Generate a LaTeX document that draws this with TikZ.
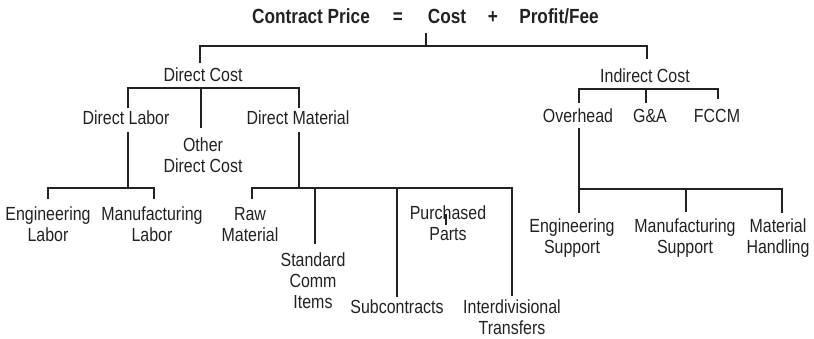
\documentclass[tikz,border=0pt]{standalone}
\usepackage{fontspec}
\setmainfont{Liberation Sans}[FakeStretch=0.84]
\definecolor{ink}{HTML}{222222}
\begin{document}
\begin{tikzpicture}[x=1pt,y=-1pt,
  lbl/.style={anchor=base,inner sep=0pt,align=center,text=ink,font=\fontsize{19}{21}\selectfont},
  ttl/.style={anchor=base,inner sep=0pt,text=ink,font=\fontsize{20.5}{24}\selectfont\bfseries},
  ln/.style={draw=ink,line width=2pt}]
\useasboundingbox (0,0) rectangle (814,338);
% title
\node[ttl] (cp) at (311,23) {Contract Price};
\node[ttl] (eq) at (398,23) {=};
\node[ttl] (cost) at (447,23) {Cost};
\node[ttl] (plus) at (493,23) {+};
\node[ttl] (pf) at (559,23) {Profit/Fee};
% level 1
\node[lbl] (dc) at (203,81) {Direct Cost};
\node[lbl] (ic) at (645,82) {Indirect Cost};
% level 2
\node[lbl] (dl) at (126,124) {Direct Labor};
\node[lbl] (odc) at (203,172) {Other\\Direct Cost};
\node[lbl] (dm) at (298,124) {Direct Material};
\node[lbl] (oh) at (578,122) {Overhead};
\node[lbl] (ga) at (650,122) {G\&A};
\node[lbl] (fccm) at (717,122) {FCCM};
% level 3
\node[lbl] (el) at (48,241) {Engineering\\Labor};
\node[lbl] (ml) at (152,241) {Manufacturing\\Labor};
\node[lbl] (rm) at (250,241) {Raw\\Material};
\node[lbl] (sci) at (313,308) {Standard\\Comm\\Items};
\node[lbl] (sub) at (397,313) {Subcontracts};
\node[lbl] (pp) at (448,240) {Purchased\\Parts};
\node[lbl] (it) at (512,334) {Interdivisional\\Transfers};
\node[lbl] (es) at (572,253) {Engineering\\Support};
\node[lbl] (ms) at (685,253) {Manufacturing\\Support};
\node[lbl] (mh) at (778,253) {Material\\Handling};
% connectors
\coordinate (jt) at (426,46);
\draw[ln] (200,63) |- (jt) -| (647,59);
\draw[ln] (jt) -- (426,33);
\coordinate (jdc) at (201,88);
\draw[ln] (128,108) |- (jdc) -| (299,108);
\draw[ln] (jdc) -- (201,128);
\coordinate (jdl) at (128,188);
\draw[ln] (128,132) -- (jdl);
\draw[ln] (48,199) |- (jdl) -| (154,199);
\coordinate (jdm) at (299,188);
\draw[ln] (299,132) -- (jdm);
\draw[ln] (252,199) |- (jdm) -| (512,296);
\draw[ln] (315,188) -- (315,244);
\draw[ln] (397,188) -- (397,297);
\draw[ln] (446,214) -- (446,225);
\coordinate (jic) at (646,89);
\draw[ln] (579,103) |- (jic) -| (718,99);
\draw[ln] (jic) -- (646,103);
\coordinate (joh) at (579,189);
\draw[ln] (579,128) -- (joh) -- (579,213);
\draw[ln] (joh) -| (782,213);
\draw[ln] (686,189) -- (686,212);
\end{tikzpicture}
\end{document}
